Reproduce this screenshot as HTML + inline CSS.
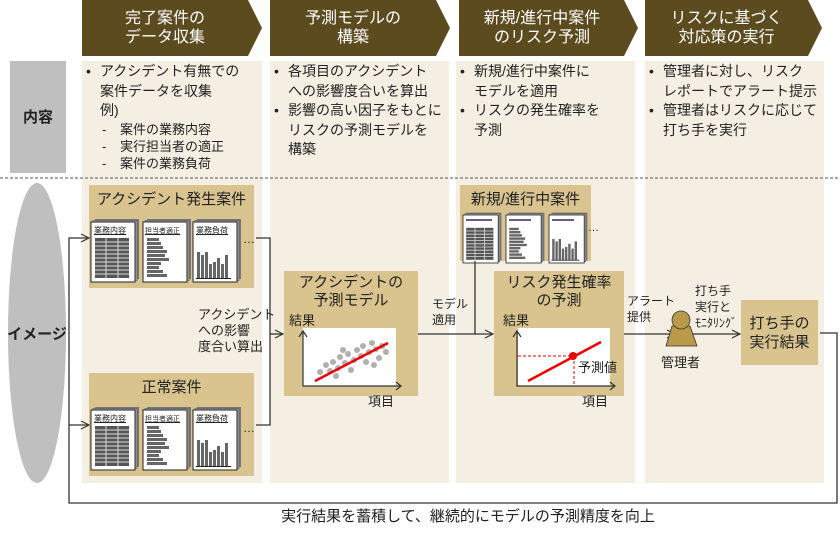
<!DOCTYPE html>
<html><head><meta charset="utf-8"><style>
body{margin:0;width:840px;height:535px;background:#fff;overflow:hidden;position:relative;font-family:"Liberation Sans","Noto Sans CJK JP",sans-serif;color:#222}
.t{position:absolute;white-space:nowrap}
.hd{position:absolute;color:#fff;font-size:16px;line-height:19px;text-align:center;top:9px}
.bl{position:absolute;font-size:14px;line-height:19.5px}
.bl div{position:relative;padding-left:18px}
.bl div.b:before{content:"•";position:absolute;left:4px}
.bl div.s{font-size:13px;line-height:17px;padding-left:38px}
.bl div.s:before{content:"-";position:absolute;left:20px}
</style></head><body>
<svg width="840" height="535" style="position:absolute;left:0;top:0">
<defs>
<marker id="ar" markerWidth="10" markerHeight="10" refX="9" refY="5" orient="auto" markerUnits="userSpaceOnUse"><path d="M1,1 L9,5 L1,9" fill="none" stroke="#333" stroke-width="1.2"/></marker>
<g id="pg"><rect x="4" y="-3" width="44" height="60" fill="#777"/><rect x="2" y="-1.5" width="44" height="60" fill="#aaa" stroke="#555" stroke-width=".6"/><rect x="0" y="0" width="44" height="60" fill="#fff" stroke="#222" stroke-width="1"/></g>
<g id="tb"><rect x="4" y="16" width="34" height="40" fill="#555"/><g stroke="#ddd" stroke-width="1"><line x1="4" y1="20" x2="38" y2="20"/><line x1="4" y1="24" x2="38" y2="24"/><line x1="4" y1="28" x2="38" y2="28"/><line x1="4" y1="32" x2="38" y2="32"/><line x1="4" y1="36" x2="38" y2="36"/><line x1="4" y1="40" x2="38" y2="40"/><line x1="4" y1="44" x2="38" y2="44"/><line x1="4" y1="48" x2="38" y2="48"/><line x1="4" y1="52" x2="38" y2="52"/><line x1="15" y1="16" x2="15" y2="56"/><line x1="27" y1="16" x2="27" y2="56"/></g></g>
<g id="hb" fill="#666"><rect x="4" y="16" width="12" height="3"/><rect x="4" y="20" width="14" height="3"/><rect x="4" y="24" width="16" height="3"/><rect x="4" y="28" width="20" height="3"/><rect x="4" y="32" width="18" height="3"/><rect x="4" y="36" width="22" height="3"/><rect x="4" y="40" width="14" height="3"/><rect x="4" y="44" width="12" height="3"/><rect x="4" y="48" width="16" height="3"/><rect x="4" y="52" width="20" height="3"/></g>
<g id="vb" fill="#666"><rect x="4" y="30" width="3" height="26"/><rect x="8" y="33" width="3" height="23"/><rect x="12" y="30" width="3" height="26"/><rect x="16" y="42" width="3" height="14"/><rect x="20" y="40" width="3" height="16"/><rect x="24" y="36" width="3" height="20"/><rect x="28" y="42" width="3" height="14"/><rect x="32" y="33" width="3" height="23"/><line x1="3" y1="56.5" x2="38" y2="56.5" stroke="#222"/></g>
</defs>
<g fill="#5b4b1f">
<polygon points="82,0 248,0 262,28 248,56 82,56"/>
<polygon points="270,0 436,0 450,28 436,56 270,56"/>
<polygon points="459,0 624,0 638,28 624,56 459,56"/>
<polygon points="645,0 808,0 822,28 808,56 645,56"/>
</g>
<g fill="#f5efe3">
<rect x="82" y="61" width="180" height="422"/>
<rect x="270" y="61" width="179" height="422"/>
<rect x="456" y="61" width="179" height="422"/>
<rect x="645" y="61" width="179" height="422"/>
</g>
<rect x="10" y="61" width="56" height="112" fill="#bfbfbf"/>
<ellipse cx="37" cy="333" rx="29" ry="150" fill="#bfbfbf"/>
<line x1="0" y1="178" x2="840" y2="178" stroke="#555" stroke-width="1" stroke-dasharray="3,2"/>
<g fill="#d9c38e">
<rect x="89" y="185" width="165" height="103"/>
<rect x="89" y="373" width="165" height="103"/>
<rect x="284" y="271" width="134" height="125"/>
<rect x="460" y="185" width="131" height="76"/>
<rect x="494" y="271" width="130" height="125"/>
<rect x="741" y="300" width="77" height="65"/>
</g>
<g transform="translate(91,222)"><use href="#pg"/><use href="#tb"/></g>
<g transform="translate(143,222)"><use href="#pg"/><use href="#hb"/></g>
<g transform="translate(193,222)"><use href="#pg"/><use href="#vb"/></g>
<g transform="translate(91,410)"><use href="#pg"/><use href="#tb"/></g>
<g transform="translate(143,410)"><use href="#pg"/><use href="#hb"/></g>
<g transform="translate(193,410)"><use href="#pg"/><use href="#vb"/></g>
<g transform="translate(463,215) scale(.8)"><use href="#pg"/><use href="#tb"/></g>
<g transform="translate(506,215) scale(.8)"><use href="#pg"/><use href="#hb"/></g>
<g transform="translate(549,215) scale(.8)"><use href="#pg"/><use href="#vb"/></g>
<g fill="#6a5a8a"><rect x="466" y="219" width="26" height="2"/><rect x="509" y="219" width="22" height="2"/><rect x="552" y="219" width="22" height="2"/></g>
<g stroke="#333" stroke-width="1.3" fill="none">
<polyline points="820,333 837,333 837,503 69,503 69,238 89,238" marker-end="url(#ar)"/>
<line x1="69" y1="425" x2="89" y2="425" marker-end="url(#ar)"/>
<polyline points="256,238 270,238 270,425 256,425"/>
<line x1="270" y1="334" x2="283" y2="334" marker-end="url(#ar)"/>
<line x1="418" y1="334" x2="493" y2="334" marker-end="url(#ar)"/>
<line x1="475" y1="261" x2="475" y2="334"/>
<line x1="624" y1="334" x2="675" y2="334" marker-end="url(#ar)"/>
<line x1="690" y1="334" x2="740" y2="334" marker-end="url(#ar)"/>
</g>
<rect x="303" y="328" width="93" height="58" fill="#fff"/>
<rect x="518" y="328" width="92" height="58" fill="#fff"/>
<g stroke="#333" stroke-width="1.2" fill="none">
<polyline points="303,331 303,386 401,386"/>
<polyline points="299,337 303,331 307,337"/><polyline points="396,382 401,386 396,390"/>
<polyline points="517,331 517,386 615,386"/>
<polyline points="513,337 517,331 521,337"/><polyline points="610,382 615,386 610,390"/>
</g>
<g fill="#b0b0b0">
<circle cx="320" cy="372" r="3"/><circle cx="326" cy="365" r="3"/><circle cx="330" cy="371" r="3"/><circle cx="333" cy="362" r="3"/><circle cx="338" cy="368" r="3"/><circle cx="340" cy="357" r="3"/><circle cx="345" cy="363" r="3"/><circle cx="348" cy="354" r="3"/><circle cx="351" cy="370" r="3"/><circle cx="354" cy="360" r="3"/><circle cx="357" cy="350" r="3"/><circle cx="361" cy="356" r="3"/><circle cx="363" cy="346" r="3"/><circle cx="366" cy="362" r="3"/><circle cx="369" cy="352" r="3"/><circle cx="372" cy="343" r="3"/><circle cx="376" cy="349" r="3"/><circle cx="379" cy="358" r="3"/><circle cx="382" cy="346" r="3"/><circle cx="386" cy="352" r="3"/><circle cx="336" cy="376" r="3"/><circle cx="343" cy="350" r="3"/><circle cx="374" cy="365" r="3"/>
</g>
<line x1="315" y1="381" x2="388" y2="343" stroke="#e00" stroke-width="2.5"/>
<g stroke="#e00" stroke-width="1" stroke-dasharray="3,2"><line x1="518" y1="356" x2="573" y2="356"/><line x1="574" y1="356" x2="574" y2="386"/></g>
<line x1="528" y1="381" x2="601" y2="342" stroke="#e00" stroke-width="2.5"/>
<circle cx="573" cy="356" r="4" fill="#e00"/>
<polygon points="672,326 690,326 697,346 666,346" fill="#b89a4a" stroke="#333" stroke-width=".8"/>
<circle cx="681" cy="320" r="9" fill="#b89a4a" stroke="#333" stroke-width=".8"/>
</svg>

<div class="hd" style="left:82px;width:166px">完了案件の<br>データ収集</div>
<div class="hd" style="left:270px;width:166px">予測モデルの<br>構築</div>
<div class="hd" style="left:459px;width:166px">新規/進行中案件<br>のリスク予測</div>
<div class="hd" style="left:645px;width:163px">リスクに基づく<br>対応策の実行</div>

<div class="t" style="left:10px;width:56px;text-align:center;top:106px;font-size:15px;font-weight:bold">内容</div>
<div class="t" style="left:4px;width:66px;text-align:center;top:323px;font-size:15px;font-weight:bold">イメージ</div>

<div class="bl" style="left:82px;top:62px"><div class="b">アクシデント有無での<br>案件データを収集<br>例)</div><div class="s">案件の業務内容</div><div class="s">実行担当者の適正</div><div class="s">案件の業務負荷</div></div>
<div class="bl" style="left:270px;top:62px"><div class="b">各項目のアクシデント<br>への影響度合いを算出</div><div class="b">影響の高い因子をもとに<br>リスクの予測モデルを<br>構築</div></div>
<div class="bl" style="left:456px;top:62px"><div class="b">新規/進行中案件に<br>モデルを適用</div><div class="b">リスクの発生確率を<br>予測</div></div>
<div class="bl" style="left:645px;top:62px"><div class="b">管理者に対し、リスク<br>レポートでアラート提示</div><div class="b">管理者はリスクに応じて<br>打ち手を実行</div></div>

<div class="t" style="left:89px;width:165px;text-align:center;top:188px;font-size:15px">アクシデント発生案件</div>
<div class="t" style="left:89px;width:165px;text-align:center;top:376px;font-size:15px">正常案件</div>
<div class="t" style="left:460px;width:131px;text-align:center;top:188px;font-size:15px">新規/進行中案件</div>
<div class="t" style="left:94px;top:225px;font-size:8px;text-decoration:underline">業務内容</div>
<div class="t" style="left:145px;top:226px;font-size:7px;text-decoration:underline">担当者適正</div>
<div class="t" style="left:196px;top:225px;font-size:8px;text-decoration:underline">業務負荷</div>
<div class="t" style="left:94px;top:413px;font-size:8px;text-decoration:underline">業務内容</div>
<div class="t" style="left:145px;top:414px;font-size:7px;text-decoration:underline">担当者適正</div>
<div class="t" style="left:196px;top:413px;font-size:8px;text-decoration:underline">業務負荷</div>
<div class="t" style="left:243px;top:232px;font-size:12px">…</div>
<div class="t" style="left:243px;top:421px;font-size:12px">…</div>
<div class="t" style="left:588px;top:222px;font-size:11px">…</div>

<div class="t" style="left:198px;top:307px;font-size:13px;line-height:16px">アクシデント<br>への影響<br>度合い算出</div>
<div class="t" style="left:284px;width:134px;text-align:center;top:274px;font-size:15px;line-height:18px">アクシデントの<br>予測モデル</div>
<div class="t" style="left:289px;top:310px;font-size:13px">結果</div>
<div class="t" style="left:368px;top:391px;font-size:13px">項目</div>
<div class="t" style="left:432px;top:296px;font-size:12px;line-height:16px">モデル<br>適用</div>
<div class="t" style="left:494px;width:130px;text-align:center;top:274px;font-size:15px;line-height:18px">リスク発生確率<br>の予測</div>
<div class="t" style="left:503px;top:310px;font-size:13px">結果</div>
<div class="t" style="left:578px;top:357px;font-size:13px">予測値</div>
<div class="t" style="left:582px;top:391px;font-size:13px">項目</div>
<div class="t" style="left:627px;top:293px;font-size:12px;line-height:16px">アラート<br>提供</div>
<div class="t" style="left:695px;top:283px;font-size:12px;line-height:16px">打ち手<br>実行と<br>ﾓﾆﾀﾘﾝｸﾞ</div>
<div class="t" style="left:661px;top:352px;font-size:13px">管理者</div>
<div class="t" style="left:741px;width:77px;text-align:center;top:314px;font-size:15px;line-height:19px">打ち手の<br>実行結果</div>
<div class="t" style="left:0;width:936px;text-align:center;top:505px;font-size:15px">実行結果を蓄積して、継続的にモデルの予測精度を向上</div>
</body></html>
